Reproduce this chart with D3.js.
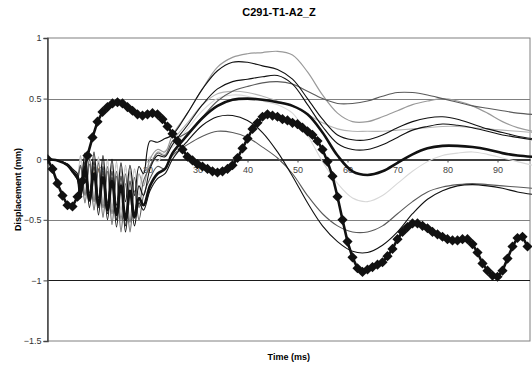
<!DOCTYPE html>
<html>
<head>
<meta charset="utf-8">
<script src="https://cdn.jsdelivr.net/npm/d3@7"></script>
<style>
  body { margin: 0; background: #fff; }
  text { font-family: "Liberation Sans", Arial, sans-serif; }
</style>
</head>
<body>
<div id="chart"></div>
<script>
// time samples (ms) shared by the thin traces
const times = [0, 2, 4, 5, 6,
  6.6, 7.5, 8.4, 9.3, 10.2, 11.1, 12.0, 12.9, 13.8, 14.7, 15.6, 16.5, 17.4, 18.3, 19.2,
  20.5, 22, 23.5, 25,
  28, 31, 34, 37, 40, 43, 46, 49, 52, 55, 58, 61, 64, 67, 70, 73, 76, 79, 82, 85, 88, 91, 94, 97];

// thin traces (mm)
const traceA = [0, -0.01, -0.05, -0.1, -0.14,
  -0.25, 0.02, -0.3, 0.0, -0.36, -0.02, -0.42, -0.05, -0.46, -0.08, -0.5, -0.1, -0.45, -0.12, -0.22,
  0.0, 0.08, 0.06, 0.2,
  0.38, 0.58, 0.76, 0.84, 0.87, 0.88, 0.89, 0.86, 0.72, 0.53, 0.38, 0.31, 0.31, 0.35, 0.40, 0.45, 0.48, 0.5, 0.48, 0.44, 0.38, 0.31, 0.26, 0.23];
const traceB = [0, -0.01, -0.04, -0.09, -0.13,
  -0.05, -0.3, 0.0, -0.35, -0.03, -0.4, -0.06, -0.45, -0.1, -0.5, -0.12, -0.52, -0.15, -0.4, -0.18,
  -0.06, 0.05, 0.03, 0.15,
  0.22, 0.35, 0.48, 0.56, 0.6, 0.63, 0.64, 0.62, 0.56, 0.5, 0.46, 0.46, 0.48, 0.52, 0.55, 0.55, 0.53, 0.5, 0.47, 0.44, 0.42, 0.40, 0.38, 0.37];
const traceC = [0, -0.01, -0.04, -0.08, -0.12,
  -0.22, 0.05, -0.28, 0.06, -0.32, 0.03, -0.36, 0.0, -0.38, -0.03, -0.35, -0.05, -0.3, -0.06, -0.12,
  0.15, 0.14, 0.17, 0.2,
  0.38, 0.58, 0.73, 0.80, 0.80, 0.77, 0.74, 0.66, 0.5, 0.33, 0.2, 0.16, 0.16, 0.2, 0.26, 0.31, 0.34, 0.35, 0.33, 0.29, 0.25, 0.22, 0.19, 0.17];
const traceD = [0, -0.01, -0.05, -0.1, -0.15,
  -0.28, -0.02, -0.34, -0.02, -0.4, -0.06, -0.45, -0.1, -0.5, -0.14, -0.55, -0.18, -0.48, -0.22, -0.3,
  -0.08, 0.03, 0.02, 0.12,
  0.28, 0.45, 0.58, 0.64, 0.66, 0.68, 0.69, 0.62, 0.45, 0.27, 0.13, 0.08, 0.08, 0.12, 0.18, 0.24, 0.27, 0.29, 0.28, 0.26, 0.23, 0.2, 0.18, 0.16];
const traceE = [0, -0.01, -0.05, -0.1, -0.15,
  -0.3, -0.1, -0.34, -0.12, -0.38, -0.15, -0.42, -0.18, -0.46, -0.22, -0.5, -0.26, -0.48, -0.32, -0.38,
  -0.22, -0.12, -0.08, 0.05,
  0.2, 0.34, 0.44, 0.49, 0.5, 0.49, 0.47, 0.44, 0.37, 0.22, 0.03, -0.1, -0.13, -0.1, -0.03, 0.04, 0.09, 0.11, 0.11, 0.1, 0.08, 0.05, 0.03, 0.02];
const traceF = [0, -0.01, -0.04, -0.08, -0.12,
  0.0, -0.25, 0.02, -0.3, 0.0, -0.34, -0.02, -0.36, -0.05, -0.38, -0.08, -0.35, -0.1, -0.25, -0.12,
  0.02, -0.02, 0.07, 0.1,
  0.25, 0.4, 0.5, 0.53, 0.52, 0.48, 0.45, 0.38, 0.2, -0.02, -0.2, -0.32, -0.35, -0.3, -0.2, -0.1, -0.02, 0.03, 0.05, 0.06, 0.04, 0.01, -0.02, -0.05];
const traceG = [0, -0.01, -0.05, -0.1, -0.16,
  -0.06, -0.36, -0.04, -0.42, -0.08, -0.48, -0.1, -0.54, -0.14, -0.6, -0.2, -0.6, -0.26, -0.5, -0.3,
  -0.16, -0.06, -0.08, 0.03,
  0.12, 0.19, 0.23, 0.22, 0.18, 0.1, 0.01, -0.12, -0.3, -0.45, -0.55, -0.6, -0.6, -0.55, -0.45, -0.35, -0.27, -0.23, -0.21, -0.2, -0.21, -0.22, -0.23, -0.24];
const traceH = [0, -0.01, -0.05, -0.11, -0.17,
  -0.32, -0.06, -0.4, -0.06, -0.46, -0.1, -0.5, -0.15, -0.56, -0.2, -0.6, -0.28, -0.55, -0.36, -0.42,
  -0.26, -0.16, -0.12, 0.0,
  0.15, 0.28, 0.35, 0.36, 0.32, 0.22, 0.06, -0.14, -0.36, -0.55, -0.68, -0.76, -0.77, -0.71, -0.6, -0.45, -0.33, -0.26, -0.22, -0.21, -0.22, -0.24, -0.27, -0.29];
const traceI = [0, -0.01, -0.04, -0.08, -0.12,
  0.03, -0.28, 0.04, -0.32, 0.02, -0.36, 0.0, -0.4, -0.02, -0.42, -0.05, -0.38, -0.08, -0.3, -0.1,
  -0.05, 0.06, 0.04, 0.15,
  0.3, 0.45, 0.54, 0.56, 0.55, 0.52, 0.48, 0.44, 0.37, 0.3, 0.25, 0.23, 0.23, 0.23, 0.24, 0.25, 0.26, 0.27, 0.27, 0.26, 0.25, 0.24, 0.23, 0.22];

// reference trace with diamond markers, one value per ms (0..96)
const refTimes = d3.range(0, 97);
const refValues = [0, -0.08, -0.2, -0.3, -0.38, -0.39, -0.31, -0.18, 0.03, 0.18,
  0.31, 0.39, 0.43, 0.46, 0.47, 0.46, 0.43, 0.40, 0.37, 0.36,
  0.37, 0.38, 0.37, 0.33, 0.27, 0.21, 0.15, 0.08, 0.02, -0.01,
  -0.04, -0.06, -0.08, -0.10, -0.11, -0.10, -0.08, -0.05, 0.01, 0.09,
  0.17, 0.25, 0.30, 0.35, 0.37, 0.36, 0.35, 0.33, 0.32, 0.30,
  0.29, 0.26, 0.23, 0.20, 0.15, 0.08, -0.02, -0.14, -0.31, -0.50,
  -0.68, -0.81, -0.90, -0.93, -0.91, -0.89, -0.87, -0.85, -0.80, -0.74,
  -0.66, -0.60, -0.56, -0.53, -0.53, -0.55, -0.57, -0.60, -0.62, -0.64,
  -0.66, -0.67, -0.67, -0.66, -0.66, -0.70, -0.77, -0.86, -0.92, -0.96,
  -0.97, -0.92, -0.82, -0.72, -0.65, -0.64, -0.72];

const yTicks = [1, 0.5, 0, -0.5, -1, -1.5];
const xTicks = [10, 20, 30, 40, 50, 60, 70, 80, 90];

// series styling
const traces = [
  { values: traceI, color: "#b4b4b4", width: 1.1 },
  { values: traceF, color: "#d8d8d8", width: 1.1 },
  { values: traceA, color: "#9a9a9a", width: 1.2 },
  { values: traceB, color: "#5a5a5a", width: 1.1 },
  { values: traceG, color: "#5a5a5a", width: 1.1 },
  { values: traceD, color: "#111", width: 1.1 },
  { values: traceC, color: "#111", width: 1.1 },
  { values: traceH, color: "#111", width: 1.1 },
  { values: traceE, color: "#111", width: 2.6 }
];

const width = 532, height = 368;
const plot = { left: 47.5, right: 530, top: 38, bottom: 341 };

const svg = d3.select("#chart")
  .append("svg")
  .attr("width", width)
  .attr("height", height);

svg.append("rect").attr("width", width).attr("height", height).attr("fill", "#fff");

const xScale = d3.scaleLinear().domain([0, 96.5]).range([plot.left, plot.right]);
const yScale = d3.scaleLinear().domain([-1.5, 1]).range([plot.bottom, plot.top]);

// title
svg.append("text")
  .attr("x", 279).attr("y", 16)
  .attr("text-anchor", "middle")
  .style("font-size", "11px")
  .style("font-weight", "bold")
  .text("C291-T1-A2_Z");

// plot border
svg.append("rect")
  .attr("x", plot.left).attr("y", plot.top)
  .attr("width", plot.right - plot.left).attr("height", plot.bottom - plot.top)
  .attr("fill", "none").attr("stroke", "#808080").attr("stroke-width", 1);

// horizontal gridlines
svg.selectAll(".grid")
  .data(yTicks.filter(d => d !== 1 && d !== -1.5 && d !== 0))
  .enter().append("line")
  .attr("class", "grid")
  .attr("x1", plot.left).attr("x2", plot.right)
  .attr("y1", d => Math.round(yScale(d)) + 0.5).attr("y2", d => Math.round(yScale(d)) + 0.5)
  .attr("stroke", d => d === -1 ? "#1a1a1a" : "#808080")
  .attr("stroke-width", 1);

// Y axis
const yAxis = d3.axisLeft(yScale)
  .tickValues(yTicks)
  .tickSize(4)
  .tickFormat(d => d3.format("")(d));

const yAxisG = svg.append("g")
  .attr("transform", `translate(${plot.left},0)`)
  .call(yAxis);
yAxisG.select(".domain").attr("stroke", "#444").attr("stroke-width", 1.5);
yAxisG.selectAll(".tick line").attr("stroke", "#444");
yAxisG.selectAll(".tick text")
  .attr("x", -6)
  .style("font-size", "9px")
  .style("font-family", "Liberation Sans, Arial, sans-serif")
  .attr("fill", "#333");

// X axis crosses at 0
const xAxis = d3.axisBottom(xScale)
  .tickValues(xTicks)
  .tickSize(3)
  .tickSizeOuter(0)
  .tickFormat(d3.format("d"));

const xAxisG = svg.append("g")
  .attr("transform", `translate(0,${Math.round(yScale(0)) + 0.5})`)
  .call(xAxis);
xAxisG.select(".domain").attr("stroke", "#000").attr("stroke-width", 1.3);
xAxisG.selectAll(".tick line").attr("stroke", "#444");
xAxisG.selectAll(".tick text")
  .attr("y", 7)
  .style("font-size", "9px")
  .style("font-family", "Liberation Sans, Arial, sans-serif")
  .attr("fill", "#444");

// axis titles
svg.append("text")
  .attr("x", (plot.left + plot.right) / 2).attr("y", 360)
  .attr("text-anchor", "middle")
  .style("font-size", "9px")
  .style("font-weight", "bold")
  .text("Time (ms)");

svg.append("text")
  .attr("transform", `translate(21,${(plot.top + plot.bottom) / 2}) rotate(-90)`)
  .attr("text-anchor", "middle")
  .style("font-size", "9px")
  .style("font-weight", "bold")
  .text("Displacement (mm)");

// clip to plot area
svg.append("clipPath").attr("id", "clip")
  .append("rect")
  .attr("x", plot.left).attr("y", plot.top - 2)
  .attr("width", plot.right - plot.left + 2).attr("height", plot.bottom - plot.top + 4);

const lines = svg.append("g").attr("clip-path", "url(#clip)");

// thin traces
const smoothLine = d3.line()
  .x((d, i) => xScale(times[i]))
  .y(d => yScale(d))
  .curve(d3.curveCatmullRom.alpha(0.5));

traces.forEach(t => {
  lines.append("path")
    .datum(t.values)
    .attr("fill", "none")
    .attr("stroke", t.color)
    .attr("stroke-width", t.width)
    .attr("stroke-linejoin", "round")
    .attr("d", smoothLine);
});

// reference trace with diamonds
const refLine = d3.line()
  .x((d, i) => xScale(refTimes[i]))
  .y(d => yScale(d));

lines.append("path")
  .datum(refValues)
  .attr("fill", "none")
  .attr("stroke", "#111")
  .attr("stroke-width", 2.6)
  .attr("d", refLine);

const diamond = d3.symbol().type(d3.symbolDiamond2).size(66);

lines.selectAll(".marker")
  .data(refValues)
  .enter().append("path")
  .attr("class", "marker")
  .attr("transform", (d, i) => `translate(${xScale(refTimes[i])},${yScale(d)})`)
  .attr("d", diamond)
  .attr("fill", "#111");
</script>
</body>
</html>
